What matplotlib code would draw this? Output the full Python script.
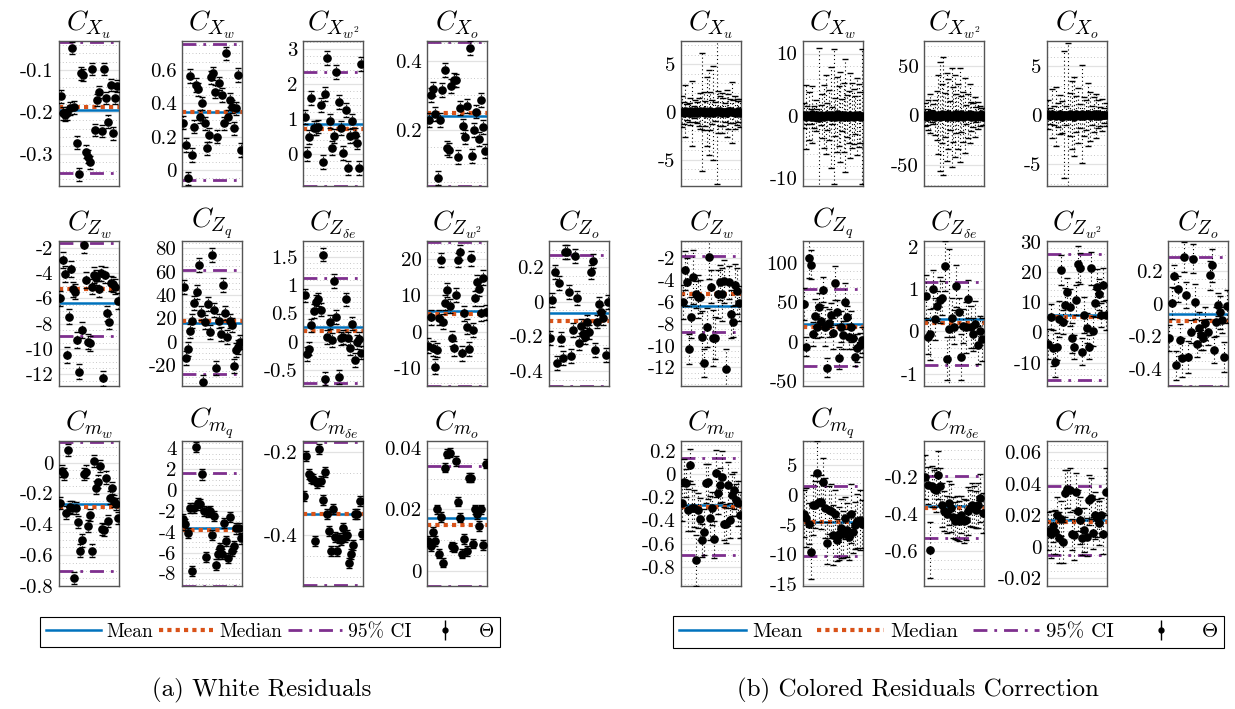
import matplotlib
matplotlib.use("Agg")
import matplotlib.pyplot as plt
import numpy as np
from matplotlib.ticker import MultipleLocator, FuncFormatter
from matplotlib.lines import Line2D
from matplotlib.legend_handler import HandlerTuple

plt.rcParams['font.family'] = 'serif'
plt.rcParams['font.serif'] = ['cmr10']
plt.rcParams['mathtext.fontset'] = 'cm'
plt.rcParams['axes.unicode_minus'] = False

MEAN_COL = '#0072BD'
MED_COL = '#D95319'
CI_COL = '#7E2F8E'

# coefficient names, row by row (4, 5, 4)
titles = [r'$C_{X_u}$', r'$C_{X_w}$', r'$C_{X_{w^2}}$', r'$C_{X_o}$',
          r'$C_{Z_w}$', r'$C_{Z_q}$', r'$C_{Z_{\delta e}}$', r'$C_{Z_{w^2}}$', r'$C_{Z_o}$',
          r'$C_{m_w}$', r'$C_{m_q}$', r'$C_{m_{\delta e}}$', r'$C_{m_o}$']

# ---------------- (a) white residuals: estimates ----------------
wr_Xu = [-0.163, -0.203, -0.207, -0.203, -0.191, -0.048, -0.189, -0.273, -0.348, -0.108, -0.112, -0.294, -0.306,
         -0.320, -0.098, -0.243, -0.171, -0.152, -0.245, -0.098, -0.167, -0.223, -0.136, -0.251, -0.166, -0.138]
wr_Xw = [0.284, 0.15, -0.05, 0.564, 0.09, 0.26, 0.51, 0.484, 0.32, 0.40, 0.28, 0.13, 0.21, 0.556, 0.58, 0.47,
         0.20, 0.52, 0.45, 0.28, 0.70, 0.32, 0.42, 0.38, 0.25, 0.37, 0.57, 0.12]
wr_Xw2 = [1.05, -0.01, 0.49, 1.60, 0.73, 0.73, 0.78, 1.40, -0.25, 1.72, 2.75, 0.95, 0.17, 0.51, 2.34, 1.48, 0.75,
          0.03, 1.26, -0.40, 0.51, 0.95, 0.54, 0.32, -0.42, 2.59]
wr_Xo = [0.229, 0.301, 0.318, 0.246, 0.062, 0.229, 0.316, 0.372, 0.147, 0.142, 0.326, 0.345, 0.343, 0.121, 0.263,
         0.21, 0.179, 0.268, 0.437, 0.125, 0.20, 0.253, 0.173, 0.287, 0.208, 0.14]
wr_Zw = [-6.0, -2.97, -4.08, -10.47, -7.45, -3.68, -5.29, -5.47, -9.29, -11.79, -8.5, -1.79, -4.55, -9.42, -9.55,
         -5.08, -4.16, -4.37, -5.26, -4.03, -12.32, -4.16, -7.18, -7.84, -4.82, -4.89, -5.08, -6.21]
wr_Zq = [47, -14.3, -6.6, 9.1, 17.7, 32.9, 42.9, 65.7, 24.3, -34.3, 17.1, 32, 8.6, 74.3, 27.1, -22.9, 17.7, 6.3,
         48.6, 24.3, 4.3, 17.7, 14.3, -20.6, -7.1, -4.3, 0]
wr_Zde = [0.82, -0.21, -0.12, 0.29, 0.54, 0.71, 0.75, 0.57, 1.54, -0.65, 0.09, 0.35, 0.03, 1.07, 0.44, -0.62, 0.06,
          0.09, 0.75, 0.06, -0.11, 0.32, -0.32, 0.0, 0.05, -0.19]
wr_Zw2 = [-3.85, 3.94, -4.6, -9.63, -5.05, 3.85, 19.7, 2.75, 7.98, 11.47, 7.06, -1.83, -4.59, 10.1, 19.7, 21.8,
          -5.96, 5.05, 1.38, -4.77, 20.2, 0.46, 9.17, 13.6, 11.74, 5.05, 14.86, 5.3]
wr_Zo = [-0.212, 0.01, 0.173, -0.356, 0.106, -0.215, -0.327, 0.288, 0.288, 0.058, -0.313, -0.163, 0.265, 0.019,
         -0.24, -0.14, -0.188, -0.206, -0.115, -0.173, 0.173, 0.235, -0.279, -0.115, -0.015, -0.058, -0.096,
         -0.308, -0.004]
wr_mw = [-0.26, -0.054, -0.076, -0.324, 0.08, -0.288, -0.292, -0.75, -0.296, -0.383, -0.57, -0.504, -0.076, -0.058,
         -0.41, -0.34, -0.57, 0.01, -0.162, -0.123, -0.022, -0.432, -0.439, -0.097, -0.378, -0.227, -0.166, -0.249,
         -0.27, -0.361]
wr_mq = [-2.82, -3.3, -4.1, -1.7, -7.78, -1.7, 4.13, -1.22, -1.38, 1.5, -2.02, -6.43, -2.08, -2.02, -4.32, -2.5,
         -7.14, -6.11, -5.54, -6.11, -3.14, -4.9, -6.5, -2.6, -5.86, -5.38, -3.68, -3.68, -4.64]
wr_mde = [-0.306, -0.21, -0.254, -0.262, -0.266, -0.414, -0.274, -0.192, -0.269, -0.315, -0.249, -0.35, -0.39,
          -0.437, -0.336, -0.405, -0.437, -0.406, -0.411, -0.382, -0.405, -0.4, -0.466, -0.445, -0.424, -0.349,
          -0.349, -0.317, -0.396]
wr_mo = [0.0097, 0.008, 0.0127, 0.0097, 0.02, 0.0055, 0.0175, 0.0026, 0.0336, 0.0382, 0.0385, 0.008, 0.0075,
         0.0358, 0.0225, 0.0173, 0.0055, 0.0103, 0.0064, 0.0303, 0.0303, 0.0088, 0.02, 0.0184, 0.0146, 0.02,
         0.0084, 0.0349]

# one error half-width per coefficient
wr_err = [0.015, 0.04, 0.2, 0.02, 0.6, 6, 0.12, 2, 0.04, 0.04, 0.5, 0.012, 0.0015]

wr_mean = [-0.195, 0.346, 0.86, 0.241, -6.34, 15.7, 0.253, 5.7, -0.065, -0.27, -3.68, -0.348, 0.0173]
wr_median = [-0.188, 0.35, 0.70, 0.25, -5.29, 17.7, 0.194, 4.86, -0.11, -0.285, -3.84, -0.348, 0.0148]
wr_ci_lo = [-0.345, -0.06, -0.92, 0.039, -8.95, -27.7, -0.735, -14.9, -0.487, -0.703, -9.2, -0.52, -0.005]
wr_ci_hi = [-0.033, 0.754, 2.34, 0.455, -1.66, 61.4, 1.13, 24.8, 0.269, 0.136, 1.6, -0.176, 0.0341]

# ---------------- (b) colored residuals correction ----------------
cr_Xu = [0.05, -0.1, 0.12, 0.0, -0.05, 0.08, -0.15, 0.02, 0.1, -0.08, 0.0, 0.15, -0.02, 0.06, -0.12, 0.03, -0.06,
         0.1, 0.0, -0.1, 0.04, 0.08, -0.04, 0.12, -0.08, 0.02, 0.0, -0.14, 0.06, 0.1, -0.03, 0.05, -0.06, 0.0,
         0.09, -0.1]
cr_Xu_err = [1.6, 1.2, 2.7, 0.8, 1.0, 1.4, 3.4, 0.6, 1.2, 1.1, 1.5, 1.9, 6.2, 2.0, 1.3, 3.6, 4.5, 2.0, 1.3, 4.9,
             1.0, 7.6, 2.2, 1.6, 2.1, 1.5, 1.0, 2.5, 1.8, 1.3, 3.2, 1.2, 1.7, 1.4, 1.1, 1.5]
cr_Xw = [0.1, -0.2, 0.15, 0.0, -0.1, 0.25, -0.15, 0.05, 0.2, -0.25, 0.1, 0.0, -0.1, 0.2, -0.05, 0.15, -0.2, 0.1,
         0.0, -0.15, 0.25, 0.05, -0.1, 0.2, -0.2, 0.1, 0.0, -0.15, 0.15, 0.05, -0.1, 0.2, -0.05, 0.1, -0.2, 0.0]
cr_Xw_err = [2.0, 5.1, 1.5, 3.8, 1.2, 4.5, 1.8, 2.5, 1.0, 11.2, 1.6, 3.5, 5.0, 6.3, 2.2, 4.0, 8.1, 1.4, 10.8,
             3.0, 6.0, 4.8, 7.2, 2.6, 5.5, 9.0, 3.3, 4.2, 6.8, 5.2, 4.4, 3.0, 6.2, 5.0, 4.1, 10.8]
cr_Xw2 = [1.0, -1.5, 0.5, 2.0, -0.5, 1.5, -2.0, 0.0, 1.0, -1.0, 2.0, -0.5, 0.5, -1.5, 1.5, 0.0, -2.0, 1.0, -0.5,
          2.0, -1.0, 0.5, 1.5, -1.5, 0.0, 1.0, -0.5, 2.0, -1.0, 0.5, -1.5, 1.0, 0.0, -0.5, 1.5, -1.0]
cr_Xw2_err = [12, 8, 15, 20, 6, 10, 18, 25, 40, 55, 30, 60, 22, 45, 35, 15, 50, 28, 42, 20, 33, 48, 18, 25, 38,
              10, 22, 30, 15, 12, 20, 8, 14, 10, 6, 9]
cr_Xo = [0.1, -0.05, 0.15, 0.0, -0.1, 0.05, 0.12, -0.15, 0.08, 0.0, -0.08, 0.1, 0.05, -0.12, 0.15, 0.0, -0.05,
         0.1, -0.1, 0.05, 0.12, -0.08, 0.0, 0.1, -0.05, 0.15, -0.1, 0.05, 0.0, 0.08]
cr_Xo_err = [1.5, 0.8, 2.5, 1.0, 3.0, 1.2, 2.0, 1.6, 6.5, 1.0, 7.5, 2.2, 3.5, 4.0, 1.8, 2.8, 1.2, 5.0, 2.0, 1.5,
             3.2, 2.5, 1.0, 1.8, 2.2, 1.4, 1.0, 1.6, 0.8, 1.2]
cr_Zw = [-6.0, -3.1, -4.15, -10.3, -7.4, -3.7, -5.3, -5.5, -5.5, -9.2, -11.6, -8.3, -1.9, -4.6, -9.3, -9.3, -5.3,
         -4.2, -5.3, -4.1, -12.1, -4.2, -7.1, -7.8, -4.4, -5.0, -6.1]
cr_Zw_err = [1.6, 1.8, 2.2, 1.4, 1.9, 2.5, 1.2, 2.0, 1.5, 2.4, 1.3, 1.8, 2.0, 1.5, 2.6, 1.9, 2.2, 1.6, 2.4, 2.0,
             1.8, 1.5, 2.2, 1.4, 1.9, 2.1, 1.6]
cr_Zq = [47.9, -6.4, 106, 98, 9.4, 32, 19.2, 43.6, 26.5, 66.2, 19.2, -33.3, 23.5, 34.2, 10.7, 74.8, 37.6, -21.4,
         19.2, 8.5, 50.4, 30.8, 6.4, 19.2, 4.3, -19.2, -8.5, -4.3, 2.1]
cr_Zq_err = [20, 12, 25, 18, 15, 22, 14, 18, 20, 16, 25, 12, 18, 15, 20, 22, 16, 14, 20, 18, 24, 15, 16, 20, 14,
             12, 18, 15, 16]
cr_Zde = [0.83, -0.14, -0.07, 1.0, 0.29, 0.6, 0.74, 0.79, 1.55, -0.64, 0.05, 0.33, 0.1, 1.07, 0.45, -0.6, 0.12,
          0.1, 0.76, 0.1, -0.07, 0.17, -0.31, 0.02, -0.19]
cr_Zde_err = [0.5, 0.4, 0.6, 0.45, 0.5, 0.35, 0.55, 0.4, 0.6, 0.5, 1.9, 0.45, 0.4, 0.5, 0.35, 0.55, 0.4, 0.6,
              0.45, 0.5, 0.4, 0.55, 0.45, 0.35, 0.5]
cr_Zw2 = [-3.9, 5.3, -5.0, -9.7, -4.7, 4.6, 20.6, 3.4, 9.2, 13.4, 8.3, -1.9, -4.7, 10.9, 22.6, 21.2, -6.3, 5.9,
          1.4, -4.7, 21.2, 0.6, 9.8, 15.0, 12.6, 5.9, 15.9, 5.9]
cr_Zw2_err = [5, 4, 6, 5, 4.5, 6, 5, 4, 5.5, 4.5, 6, 5, 4, 5, 6, 5, 4.5, 6, 5, 4, 5.5, 5, 4.5, 6, 5, 4, 5.5, 5]
cr_Zo = [-0.212, 0.004, 0.169, -0.377, 0.093, -0.223, -0.33, 0.287, 0.056, -0.326, -0.171, 0.278, 0.014, -0.249,
         -0.15, -0.192, -0.212, -0.12, -0.175, 0.175, 0.237, -0.285, -0.109, -0.006, -0.052, -0.099, -0.326,
         -0.016]
cr_Zo_err = [0.08, 0.1, 0.07, 0.09, 0.08, 0.1, 0.12, 0.09, 0.08, 0.1, 0.07, 0.09, 0.11, 0.08, 0.1, 0.09, 0.07,
             0.1, 0.08, 0.09, 0.1, 0.08, 0.09, 0.07, 0.1, 0.08, 0.09, 0.1]
cr_mw = [-0.253, -0.066, -0.08, -0.311, 0.078, -0.288, -0.296, -0.742, -0.311, -0.388, -0.57, -0.498, -0.08,
         -0.066, -0.377, -0.296, -0.561, 0.006, -0.167, -0.095, -0.023, -0.426, -0.426, -0.095, -0.397, -0.181,
         -0.138, -0.224, -0.253, -0.354]
cr_mw_err = [0.15, 0.2, 0.12, 0.18, 0.14, 0.2, 0.16, 0.22, 0.15, 0.18, 0.14, 0.2, 0.17, 0.15, 0.19, 0.14, 0.16,
             0.2, 0.18, 0.15, 0.22, 0.14, 0.17, 0.2, 0.15, 0.18, 0.16, 0.14, 0.19, 0.2]
cr_mq = [-3.1, -3.8, -4.8, -9.6, -1.7, -1.6, 3.65, -1.1, -1.2, 2.2, -2.2, -8.1, -2.5, -2.7, -6.7, -3.1, -7.6,
         -6.5, -5.6, -6.6, -3.9, -5.9, -7.0, -3.1, -6.2, -5.1, -4.4, -4.2, -4.9]
cr_mq_err = [4, 5, 3.5, 4.5, 5, 4, 5.5, 3.5, 4.5, 4, 5, 3.5, 4, 4.5, 5, 4, 3.5, 4.5, 5, 4, 3.5, 4.5, 4, 5, 3.5,
             4, 4.5, 5, 4]
cr_mde = [-0.2, -0.244, -0.594, -0.249, -0.262, -0.267, -0.189, -0.249, -0.349, -0.382, -0.4, -0.34, -0.367,
          -0.418, -0.436, -0.422, -0.436, -0.404, -0.436, -0.431, -0.382, -0.367, -0.349, -0.358, -0.376, -0.353,
          -0.313, -0.395]
cr_mde_err = [0.12, 0.1, 0.15, 0.11, 0.1, 0.12, 0.13, 0.1, 0.12, 0.11, 0.1, 0.12, 0.13, 0.11, 0.1, 0.12, 0.11,
              0.1, 0.12, 0.11, 0.13, 0.1, 0.12, 0.11, 0.1, 0.12, 0.13, 0.11]
cr_mo = [0.01, 0.008, 0.013, 0.0095, 0.02, 0.006, 0.018, 0.003, 0.034, 0.037, 0.036, 0.008, 0.0075, 0.035, 0.023,
         0.017, 0.006, 0.0105, 0.0065, 0.03, 0.031, 0.009, 0.02, 0.0185, 0.015, 0.02, 0.0085, 0.035]
cr_mo_err = [0.012, 0.015, 0.01, 0.014, 0.012, 0.016, 0.011, 0.013, 0.015, 0.012, 0.014, 0.01, 0.016, 0.012,
             0.013, 0.015, 0.011, 0.014, 0.012, 0.016, 0.013, 0.01, 0.015, 0.012, 0.014, 0.011, 0.013, 0.015]

cr_mean = [-0.03, 0.05, 0.3, 0.02, -6.34, 23, 0.29, 5.9, -0.062, -0.268, -4.5, -0.358, 0.017]
cr_median = [0.02, 0.0, -0.5, 0.05, -5.29, 18.8, 0.21, 5.0, -0.105, -0.282, -4.5, -0.364, 0.016]
cr_ci_lo = [-0.15, -0.3, -2.0, -0.2, -8.77, -31.2, -0.79, -15.6, -0.505, -0.70, -10.3, -0.531, -0.005]
cr_ci_hi = [0.15, 0.3, 2.0, 0.2, -1.82, 67.5, 1.17, 26.1, 0.289, 0.135, 1.57, -0.195, 0.039]

wr_vals = [wr_Xu, wr_Xw, wr_Xw2, wr_Xo, wr_Zw, wr_Zq, wr_Zde, wr_Zw2, wr_Zo, wr_mw, wr_mq, wr_mde, wr_mo]
cr_vals = [cr_Xu, cr_Xw, cr_Xw2, cr_Xo, cr_Zw, cr_Zq, cr_Zde, cr_Zw2, cr_Zo, cr_mw, cr_mq, cr_mde, cr_mo]
cr_errs = [cr_Xu_err, cr_Xw_err, cr_Xw2_err, cr_Xo_err, cr_Zw_err, cr_Zq_err, cr_Zde_err, cr_Zw2_err,
           cr_Zo_err, cr_mw_err, cr_mq_err, cr_mde_err, cr_mo_err]

# axis limits and tick spacing for every box
wr_ylim = [(-0.376, -0.031), (-0.096, 0.774), (-0.93, 3.24), (0.0377, 0.457),
           (-12.92, -1.47), (-38, 86.3), (-0.78, 1.78), (-14.95, 24.95), (-0.487, 0.35),
           (-0.8, 0.14), (-9.2, 4.7), (-0.522, -0.174), (-0.005, 0.0423)]
cr_ylim = [(-7.77, 7.46), (-11.2, 12), (-71.4, 75.5), (-7.2, 7.6),
           (-13.7, -0.4), (-56.4, 128), (-1.29, 2.14), (-17.7, 30.3), (-0.505, 0.386),
           (-0.964, 0.285), (-15.3, 9.1), (-0.79, -0.003), (-0.0248, 0.0673)]
wr_step = [0.1, 0.2, 1, 0.2, 2, 20, 0.5, 10, 0.2, 0.2, 2, 0.2, 0.02]
cr_step = [5, 10, 50, 5, 2, 50, 1, 10, 0.2, 0.2, 5, 0.2, 0.02]

W, H = 1235, 709
fig = plt.figure(figsize=(W / 100, H / 100), dpi=100)

row_top = [41, 241, 441]
row_len = [4, 5, 4]
left_x = [59, 182, 303, 427, 549]
right_x = [681, 803, 924, 1047, 1168]
box_w, box_h = 60, 145


def fmt(v, pos):
    v = round(v, 6)
    if abs(v) < 1e-9:
        return '0'
    return '%g' % v


def draw_box(rect, vals, err, mean, med, lo, hi, ylim, step, title):
    ax = fig.add_axes(rect)
    x = np.arange(1, len(vals) + 1)
    # reference lines first, estimates with their error bars on top
    ax.axhline(hi, color=CI_COL, lw=2, ls=(0, (5, 2.5, 1, 2.5)), zorder=2)
    ax.axhline(lo, color=CI_COL, lw=2, ls=(0, (5, 2.5, 1, 2.5)), zorder=2)
    ax.axhline(mean, color=MEAN_COL, lw=1.8, zorder=2)
    ax.axhline(med, color=MED_COL, lw=3, ls=(0, (1, 1)), zorder=2)
    eb = ax.errorbar(x, vals, yerr=err, fmt='o', color='k', ms=5.2, mec='k', ecolor='k',
                     elinewidth=0.8, capsize=2.0, capthick=1.0, zorder=3)
    for bl in eb[2]:
        bl.set_linestyle((0, (1, 2.5)))
    ax.set_xlim(0.3, len(vals) + 0.7)
    ax.set_ylim(*ylim)
    ax.yaxis.set_major_locator(MultipleLocator(step))
    lead = int(round(step / 10 ** np.floor(np.log10(step))))
    ax.yaxis.set_minor_locator(MultipleLocator(step / (4 if lead == 2 else 5)))
    ax.yaxis.set_major_formatter(FuncFormatter(fmt))
    ax.set_xticks([])
    ax.tick_params(axis='y', which='both', length=0, pad=4, labelsize=15)
    ax.grid(axis='y', which='major', color='#e2e2e2', lw=0.9, ls='-', zorder=0)
    ax.grid(axis='y', which='minor', color='#b5b5b5', lw=0.6, ls=(0, (1, 3)), zorder=0)
    ax.set_axisbelow(True)
    for sp in ax.spines.values():
        sp.set_color('#555555')
        sp.set_linewidth(1.0)
    ax.set_title(title, fontsize=20, pad=3)
    return ax


k = 0
for r in range(3):
    for c in range(row_len[r]):
        y0 = 1 - (row_top[r] + box_h) / H
        rect_l = [left_x[c] / W, y0, box_w / W, box_h / H]
        rect_r = [right_x[c] / W, y0, box_w / W, box_h / H]
        draw_box(rect_l, wr_vals[k], wr_err[k], wr_mean[k], wr_median[k], wr_ci_lo[k], wr_ci_hi[k],
                 wr_ylim[k], wr_step[k], titles[k])
        draw_box(rect_r, cr_vals[k], cr_errs[k], cr_mean[k], cr_median[k], cr_ci_lo[k], cr_ci_hi[k],
                 cr_ylim[k], cr_step[k], titles[k])
        k += 1

# legends under each panel
handles = [Line2D([], [], color=MEAN_COL, lw=1.8),
           Line2D([], [], color=MED_COL, lw=3, ls=(0, (1, 1))),
           Line2D([], [], color=CI_COL, lw=2, ls=(0, (5, 2.5, 1, 2.5))),
           (Line2D([], [], color='k', marker='|', ms=15, mew=1.0, ls='None'),
            Line2D([], [], color='k', marker='o', ms=3.5, ls='None'))]
labels = ['Mean', 'Median', '95% CI', r'$\Theta$']

for cx, fs, hl, cs in [((41 + 499) / 2 / W, 14, 2.8, 0.3), ((672 + 1225) / 2 / W, 15, 3.2, 0.7)]:
    leg = fig.legend(handles, labels, loc='center', bbox_to_anchor=(cx, 1 - 632 / H), ncol=4,
                     fontsize=fs, handlelength=hl, handletextpad=0.3, columnspacing=cs,
                     frameon=True, fancybox=False, edgecolor='k', framealpha=1, borderpad=0.3,
                     handler_map={tuple: HandlerTuple(ndivide=1)})
    leg.get_frame().set_linewidth(0.8)

fig.text(262 / W, 1 - 690 / H, '(a) White Residuals', ha='center', va='center', fontsize=18)
fig.text(918 / W, 1 - 690 / H, '(b) Colored Residuals Correction', ha='center', va='center', fontsize=18)

fig.savefig('out.png', dpi=100)
